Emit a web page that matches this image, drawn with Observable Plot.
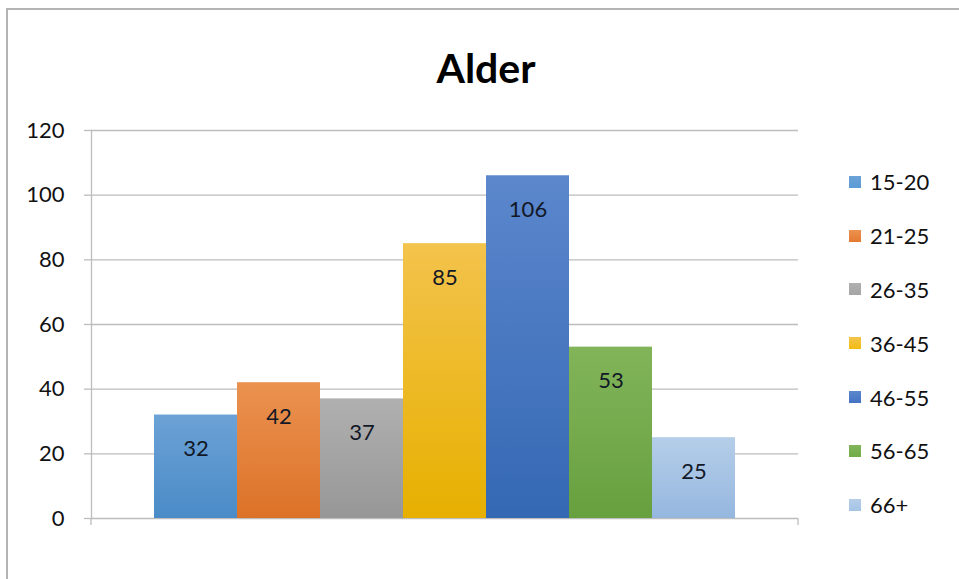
<!DOCTYPE html>
<html>
<head>
<meta charset="utf-8">
<script src="https://cdn.jsdelivr.net/npm/d3@7"></script>
<script src="https://cdn.jsdelivr.net/npm/@observablehq/plot@0.6"></script>
<style>
  html, body { margin: 0; padding: 0; background: #fff; }
  #wrap { position: relative; width: 959px; height: 579px; overflow: hidden; font-family: Lato, "Open Sans", sans-serif; }
  #frame { position: absolute; left: 6px; top: 8px; width: 960px; height: 600px;
           border-top: 2px solid #b4b4b4; border-left: 2px solid #b4b4b4; box-sizing: border-box; }
  #title { position: absolute; left: 0; width: 972px; top: 44px; text-align: center;
           font-size: 41px; font-weight: 700; color: #000; line-height: 48px; }
  #chart { position: absolute; left: 0; top: 0; }
  #legend { position: absolute; left: 849px; top: 172px; }
  .item { display: flex; align-items: center; height: 53.8px; margin-top: -17px; margin-bottom: 17px; }
  .sw { width: 12px; height: 12px; margin-right: 9px; }
  .lab { font-size: 22px; color: #111; }
</style>
</head>
<body>
<div id="wrap">
  <div id="frame"></div>
  <div id="title">Alder</div>
  <div id="chart"></div>
  <div id="legend"></div>
</div>
<script>
const ages = ["15-20", "21-25", "26-35", "36-45", "46-55", "56-65", "66+"];
const counts = [32, 42, 37, 85, 106, 53, 25];
const topColors = ["#6ca2d6", "#eb9250", "#b0b0b0", "#f3c34c", "#5c87cd", "#82b45a", "#b5cee9"];
const bottomColors = ["#4a8bc7", "#dc7228", "#979797", "#e7b000", "#3468b3", "#67a03f", "#95b7df"];
const legendColors = ["#5b9bd5", "#e57a30", "#a5a5a5", "#f2bc12", "#4472c4", "#70ad47", "#a5c4e6"];
const yTicks = [0, 20, 40, 60, 80, 100, 120];

const data = ages.map((a, i) => ({age: a, count: counts[i]}));
const gradIds = ages.map((_, i) => `grad${i}`);

const gridColor = "#bdbdbd";

const defsMark = () => {
  const defs = d3.create("svg:defs");
  gradIds.forEach((id, i) => {
    const g = defs.append("linearGradient").attr("id", id).attr("x1", 0).attr("y1", 0).attr("x2", 0).attr("y2", 1);
    g.append("stop").attr("offset", "0%").attr("stop-color", topColors[i]);
    g.append("stop").attr("offset", "100%").attr("stop-color", bottomColors[i]);
  });
  return defs.node();
};

// small vertical tick marks at both ends of the category axis
const edgeTicks = (index, scales, values, dims) => {
  const g = d3.create("svg:g").attr("stroke", gridColor).attr("stroke-width", 1.3);
  const y0 = dims.height - dims.marginBottom;
  [dims.marginLeft, dims.width - dims.marginRight].forEach(x => {
    g.append("line").attr("x1", x).attr("x2", x).attr("y1", y0).attr("y2", y0 + 7);
  });
  return g.node();
};

const plot = Plot.plot({
  width: 959,
  height: 579,
  marginTop: 130,
  marginBottom: 61,
  marginLeft: 91,
  marginRight: 161,
  style: {fontFamily: "Lato, 'Open Sans', sans-serif", background: "transparent", overflow: "visible"},
  x: {domain: ages, padding: 0, insetLeft: 62, insetRight: 62, axis: null},
  y: {domain: [0, 120], axis: null},
  color: {domain: ages, range: gradIds.map(id => `url(#${id})`)},
  marks: [
    defsMark,
    Plot.gridY(yTicks, {stroke: gridColor, strokeOpacity: 1, strokeWidth: 1.3}),
    Plot.frame({anchor: "left", stroke: gridColor, strokeWidth: 1.3}),
    Plot.axisY(yTicks, {tickSize: 7, text: null, label: null, stroke: gridColor, strokeWidth: 1.3}),
    Plot.axisY(yTicks, {tickSize: 0, tickPadding: 27, fontSize: 22, label: null, fill: "#111"}),
    edgeTicks,
    Plot.barY(data, {x: "age", y: "count", fill: "age"}),
    Plot.text(data, {x: "age", y: "count", text: d => String(d.count), dy: 34, fontSize: 22, fill: "#121826"})
  ]
});
document.getElementById("chart").appendChild(plot);

const legend = d3.select("#legend");
ages.forEach((a, i) => {
  const it = legend.append("div").attr("class", "item");
  it.append("div").attr("class", "sw")
    .style("background", `linear-gradient(${topColors[i]}, ${legendColors[i]})`);
  it.append("div").attr("class", "lab").text(a);
});
</script>
</body>
</html>
